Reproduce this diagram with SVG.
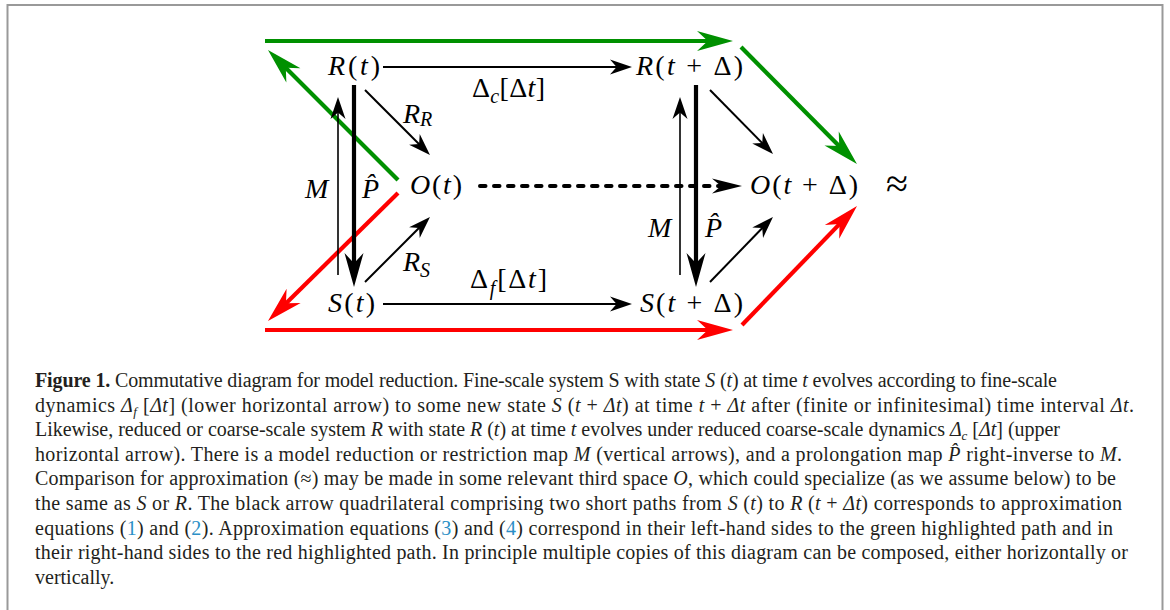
<svg xmlns="http://www.w3.org/2000/svg" width="1170" height="610" viewBox="0 0 1170 610">
  <style>
    .m { font-family: "Liberation Serif", "DejaVu Serif", serif; font-size: 28px; fill: #000; }
    .i { font-style: italic; }
    .u { font-style: normal; }
    .big { font-size: 40px; }
    .cap { font-family: "Liberation Serif", "DejaVu Serif", serif; font-size: 20px; fill: #231f20; }
    .ref { fill: #2b8fc6; }
    .thin { stroke: #000; stroke-width: 2; fill: none; }
    .hair { stroke: #000; stroke-width: 1.6; fill: none; }
    .thick { stroke: #000; stroke-width: 4.2; fill: none; }
    .dash { stroke: #000; stroke-width: 4; fill: none; stroke-dasharray: 5.5 8.5; stroke-linecap: round; }
    .grn { stroke: #009000; stroke-width: 4.2; fill: none; }
    .red { stroke: #ff0000; stroke-width: 4.2; fill: none; }
  </style>
  <defs>
    <!-- stealth-style heads; the reference point sits halfway along the head -->
    <marker id="hThin" markerUnits="userSpaceOnUse" orient="auto" overflow="visible" markerWidth="1" markerHeight="1">
      <path d="M11,0 L-11,-7.5 L-4.4,0 L-11,7.5 Z" fill="#000"/>
    </marker>
    <marker id="hThick" markerUnits="userSpaceOnUse" orient="auto" overflow="visible" markerWidth="1" markerHeight="1">
      <path d="M17,0 L-17,-9.5 L-6.8,0 L-17,9.5 Z" fill="#000"/>
    </marker>
    <marker id="hDash" markerUnits="userSpaceOnUse" orient="auto" overflow="visible" markerWidth="1" markerHeight="1">
      <path d="M15,0 L-15,-7.5 L-6,0 L-15,7.5 Z" fill="#000"/>
    </marker>
    <marker id="hGrn" markerUnits="userSpaceOnUse" orient="auto" overflow="visible" markerWidth="1" markerHeight="1">
      <path d="M18,0 L-18,-10 L-7.2,0 L-18,10 Z" fill="#009000"/>
    </marker>
    <marker id="hRed" markerUnits="userSpaceOnUse" orient="auto" overflow="visible" markerWidth="1" markerHeight="1">
      <path d="M18,0 L-18,-10 L-7.2,0 L-18,10 Z" fill="#ff0000"/>
    </marker>
  </defs>

  <rect width="1170" height="610" fill="#fff"/>

  <!-- frame -->
  <path d="M7.5,610 V5 H1162.5 V610" fill="none" stroke="#999" stroke-width="2"/>

  <!-- connectors -->
  <g id="connectors">
    <!-- highlighted paths -->
    <line class="grn" x1="265" y1="41" x2="715" y2="41" marker-end="url(#hGrn)"/>
    <line class="grn" x1="741" y1="47" x2="844.3" y2="151.2" marker-end="url(#hGrn)"/>
    <line class="grn" x1="398" y1="180" x2="280.7" y2="62.7" marker-end="url(#hGrn)"/>
    <line class="red" x1="398" y1="193" x2="280.8" y2="308.4" marker-end="url(#hRed)"/>
    <line class="red" x1="265" y1="330" x2="715" y2="330" marker-end="url(#hRed)"/>
    <line class="red" x1="742" y1="325" x2="844.5" y2="218.9" marker-end="url(#hRed)"/>

    <!-- dynamics -->
    <line class="thin" x1="383" y1="67" x2="621" y2="67" marker-end="url(#hThin)"/>
    <line class="thin" x1="383" y1="304" x2="621" y2="304" marker-end="url(#hThin)"/>

    <!-- restrictions to O -->
    <line class="thin" x1="365" y1="90" x2="422.2" y2="147.2" marker-end="url(#hThin)"/>
    <line class="thin" x1="365" y1="282" x2="422.2" y2="224.8" marker-end="url(#hThin)"/>
    <line class="thin" x1="710" y1="90" x2="765.3" y2="146.2" marker-end="url(#hThin)"/>
    <line class="thin" x1="710" y1="282" x2="765.3" y2="224.9" marker-end="url(#hThin)"/>

    <!-- M (up) and P-hat (down) -->
    <line class="hair" x1="338" y1="275" x2="338" y2="108" marker-end="url(#hThin)"/>
    <line class="hair" x1="680" y1="275" x2="680" y2="108" marker-end="url(#hThin)"/>
    <line class="thick" x1="354" y1="85" x2="354" y2="270" marker-end="url(#hThick)"/>
    <line class="thick" x1="696" y1="85" x2="696" y2="270" marker-end="url(#hThick)"/>

    <!-- O(t) to O(t+Δ) -->
    <line class="dash" x1="480" y1="186" x2="727" y2="186" marker-end="url(#hDash)"/>

    <!-- edge labels -->
    <text class="m u" x="472" y="97" textLength="73"><tspan>Δ</tspan><tspan class="i" font-size="20" dy="6">c</tspan><tspan dy="-6">[Δ</tspan><tspan class="i">t</tspan>]</text>
    <text class="m u" x="470" y="288" textLength="77"><tspan>Δ</tspan><tspan class="i" font-size="20" dy="7">f</tspan><tspan dy="-7">[Δ</tspan><tspan class="i">t</tspan>]</text>
    <text class="m i" x="403" y="123">R<tspan font-size="20" dy="3">R</tspan></text>
    <text class="m i" x="403" y="271">R<tspan font-size="20" dy="6">S</tspan></text>
    <text class="m i" x="305" y="198">M</text>
    <text class="m i" x="362" y="198">P̂</text>
    <text class="m i" x="648" y="237">M</text>
    <text class="m i" x="705" y="237">P̂</text>
  </g>

  <!-- nodes -->
  <g id="n-Rt"><text class="m" x="328" y="75" textLength="52"><tspan class="i">R</tspan>(<tspan class="i">t</tspan>)</text></g>
  <g id="n-Rtd"><text class="m" x="636" y="75" textLength="107"><tspan class="i">R</tspan>(<tspan class="i">t</tspan> + Δ)</text></g>
  <g id="n-Ot"><text class="m" x="410" y="194" textLength="52"><tspan class="i">O</tspan>(<tspan class="i">t</tspan>)</text></g>
  <g id="n-Otd"><text class="m" x="750" y="194" textLength="108"><tspan class="i">O</tspan>(<tspan class="i">t</tspan> + Δ)</text></g>
  <g id="n-St"><text class="m" x="328" y="312" textLength="47"><tspan class="i">S</tspan>(<tspan class="i">t</tspan>)</text></g>
  <g id="n-Std"><text class="m" x="640" y="312" textLength="103"><tspan class="i">S</tspan>(<tspan class="i">t</tspan> + Δ)</text></g>
  <g id="n-approx"><text class="m big" x="897" y="197" text-anchor="middle">≈</text></g>

  <!-- caption -->
  <g id="caption">
    <text class="cap" x="35" y="387" textLength="1022"><tspan font-weight="bold">Figure 1.</tspan> Commutative diagram for model reduction. Fine-scale system S with state <tspan class="i">S</tspan> (<tspan class="i">t</tspan>) at time <tspan class="i">t</tspan> evolves according to fine-scale</text>
    <text class="cap" x="35" y="411.6" textLength="1099">dynamics <tspan class="i">Δ</tspan><tspan class="i" font-size="13" dy="4">f</tspan><tspan dy="-4"> [</tspan><tspan class="i">Δt</tspan>] (lower horizontal arrow) to some new state <tspan class="i">S</tspan> (<tspan class="i">t</tspan> + <tspan class="i">Δt</tspan>) at time <tspan class="i">t</tspan> + <tspan class="i">Δt</tspan> after (finite or infinitesimal) time interval <tspan class="i">Δt</tspan>.</text>
    <text class="cap" x="35" y="436.2" textLength="1025">Likewise, reduced or coarse-scale system <tspan class="i">R</tspan> with state <tspan class="i">R</tspan> (<tspan class="i">t</tspan>) at time <tspan class="i">t</tspan> evolves under reduced coarse-scale dynamics <tspan class="i">Δ</tspan><tspan class="i" font-size="13" dy="4">c</tspan><tspan dy="-4"> [</tspan><tspan class="i">Δt</tspan>] (upper</text>
    <text class="cap" x="35" y="460.8" textLength="1087">horizontal arrow). There is a model reduction or restriction map <tspan class="i">M</tspan> (vertical arrows), and a prolongation map <tspan class="i">P̂</tspan> right-inverse to <tspan class="i">M</tspan>.</text>
    <text class="cap" x="35" y="485.4" textLength="1081">Comparison for approximation  (≈) may be made in some relevant third space <tspan class="i">O</tspan>, which could specialize (as we assume below) to be</text>
    <text class="cap" x="35" y="510" textLength="1087">the same as <tspan class="i">S</tspan> or <tspan class="i">R</tspan>. The black arrow quadrilateral comprising two short paths from <tspan class="i">S</tspan> (<tspan class="i">t</tspan>) to <tspan class="i">R</tspan> (<tspan class="i">t</tspan> + <tspan class="i">Δt</tspan>) corresponds to approximation</text>
    <text class="cap" x="35" y="534.6" textLength="1078">equations (<tspan class="ref">1</tspan>) and (<tspan class="ref">2</tspan>). Approximation equations (<tspan class="ref">3</tspan>) and (<tspan class="ref">4</tspan>) correspond in their left-hand sides to the green highlighted path and in</text>
    <text class="cap" x="35" y="559.2" textLength="1093">their right-hand sides to the red highlighted path. In principle multiple copies of this diagram can be composed, either horizontally or</text>
    <text class="cap" x="35" y="583.8">vertically.</text>
  </g>
</svg>
